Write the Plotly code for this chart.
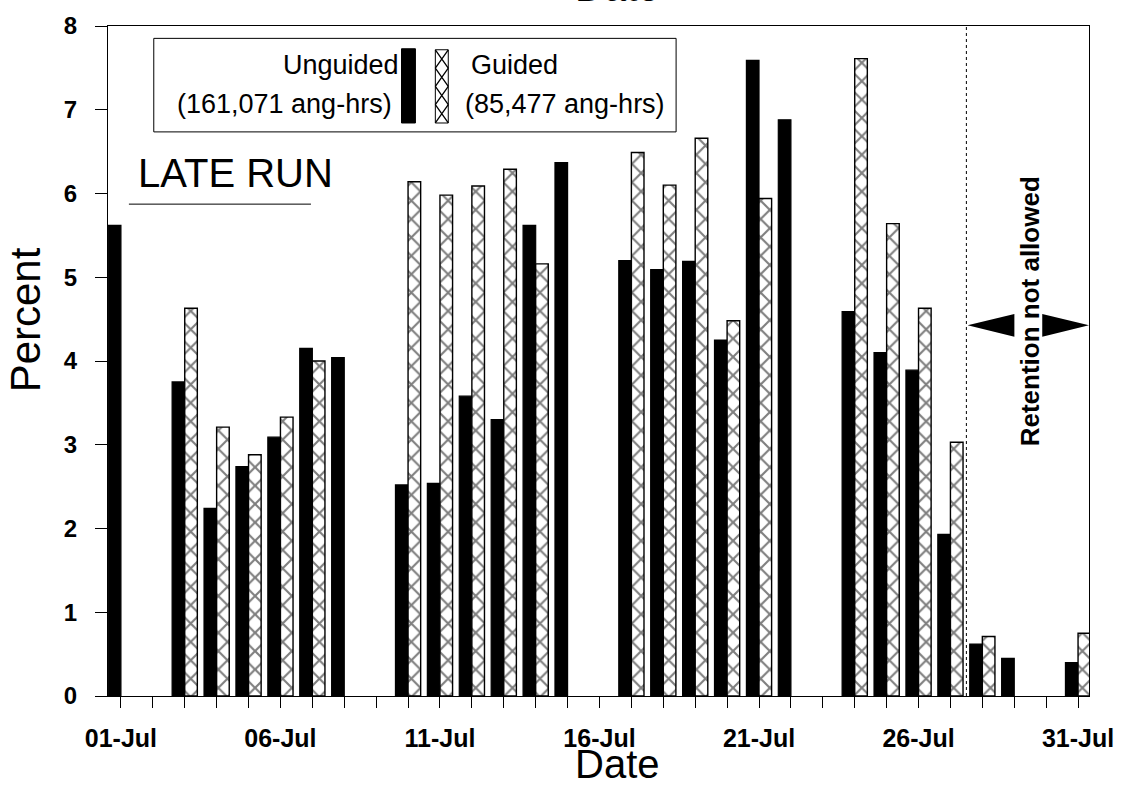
import plotly.graph_objects as go

# ---- data ----
dates = ["1997-07-%02d" % d for d in range(1, 32)]
unguided = [5.62, None, 3.75, 2.24, 2.74, 3.09, 4.15, 4.04, None, 2.52, 2.54, 3.58, 3.30, 5.62, 6.37,
            None, 5.20, 5.09, 5.19, 4.25, 7.59, 6.88, None, 4.59, 4.10, 3.89, 1.93, 0.62, 0.45, None, 0.40]
guided = [None, None, 4.63, 3.21, 2.88, 3.33, 4.00, None, None, 6.14, 5.98, 6.09, 6.29, 5.16, None,
          None, 6.49, 6.10, 6.66, 4.48, 5.94, None, None, 7.61, 5.64, 4.63, 3.03, 0.71, None, None, 0.75]
y_ticks = [0, 1, 2, 3, 4, 5, 6, 7, 8]

FONT = "Liberation Sans, Arial, sans-serif"
W, H = 1126, 789
L, R, T, B = 108, 32, 19, 93
PW, PH = W - L - R, H - T - B


def px(x):
    return (x - L) / PW


def py(y):
    return (H - B - y) / PH


fig = go.Figure()
fig.add_trace(go.Bar(x=dates, y=unguided, name="Unguided",
                     marker=dict(color="black", line=dict(color="black", width=1.2))))
fig.add_trace(go.Bar(x=dates, y=guided, name="Guided",
                     marker=dict(color="white", line=dict(color="black", width=1.4),
                                 pattern=dict(shape="x", fgcolor="black", bgcolor="white",
                                              size=13, solidity=0.3))))

shapes = []
# dotted separator
shapes.append(dict(type="line", xref="x", yref="paper", x0="1997-07-27 12:00", x1="1997-07-27 12:00",
                   y0=0, y1=1, line=dict(color="black", width=1, dash="dot")))
# arrows
ay = 321.5
hh = 11.5
shapes.append(dict(type="path", xref="paper", yref="paper",
                   path="M %f,%f L %f,%f L %f,%f Z" % (px(972), py(ay), px(1019), py(ay - hh), px(1019), py(ay + hh)),
                   fillcolor="black", line=dict(width=0)))
shapes.append(dict(type="path", xref="paper", yref="paper",
                   path="M %f,%f L %f,%f L %f,%f Z" % (px(1094), py(ay), px(1047), py(ay - hh), px(1047), py(ay + hh)),
                   fillcolor="black", line=dict(width=0)))
# legend box
shapes.append(dict(type="rect", xref="paper", yref="paper", x0=px(154), x1=px(679), y0=py(126), y1=py(31.5),
                   line=dict(color="black", width=1), fillcolor="white", layer="above"))
# legend swatches
shapes.append(dict(type="rect", xref="paper", yref="paper", x0=px(403), x1=px(417), y0=py(117), y1=py(42),
                   line=dict(color="black", width=1), fillcolor="black", layer="above"))
shapes.append(dict(type="rect", xref="paper", yref="paper", x0=px(437), x1=px(450), y0=py(117), y1=py(43),
                   line=dict(color="black", width=1), fillcolor="white", layer="above"))
cell = (117 - 43) / 4
segs = []
for i in range(4):
    y0 = 43 + i * cell
    y1 = y0 + cell
    segs.append("M %f,%f L %f,%f" % (px(437), py(y0), px(450), py(y1)))
    segs.append("M %f,%f L %f,%f" % (px(450), py(y0), px(437), py(y1)))
shapes.append(dict(type="path", xref="paper", yref="paper", path=" ".join(segs),
                   line=dict(color="black", width=1.3), layer="above"))
# LATE RUN underline
shapes.append(dict(type="line", xref="paper", yref="paper", x0=px(129), x1=px(312), y0=py(199), y1=py(199),
                   line=dict(color="black", width=1)))

ann = []


def text(s, x, y, size, xanchor="center", yanchor="middle", angle=0, bold=False):
    ann.append(dict(text=("<b>%s</b>" % s) if bold else s, xref="paper", yref="paper", x=px(x), y=py(y),
                    xanchor=xanchor, yanchor=yanchor, showarrow=False, textangle=angle,
                    font=dict(family=FONT, size=size, color="black")))


text("Unguided", 402, 58, 27, xanchor="right")
text("(161,071 ang-hrs)", 395, 98, 27, xanchor="right")
text("Guided", 471, 58, 27, xanchor="left")
text("(85,477 ang-hrs)", 465, 98, 27, xanchor="left")
text("LATE RUN", 136, 168, 40, xanchor="left")
text("Retention not allowed", 1035, 307, 26, angle=-90, bold=True)
text("Percent", 26, 316, 42, angle=-90)
text("Date", 620, 789, 40, yanchor="bottom")
text("Date", 620, 4, 40, yanchor="bottom")

fig.update_layout(
    width=W, height=H, margin=dict(l=L, r=R, t=T, b=B, pad=0),
    paper_bgcolor="white", plot_bgcolor="white",
    barmode="group", bargap=0.21, bargroupgap=0,
    showlegend=False,
    shapes=shapes, annotations=ann,
    font=dict(family=FONT, color="black"),
)
fig.update_xaxes(type="date", range=["1997-06-30 14:17", "1997-07-31 08:14"],
                 tick0="1997-07-01", dtick=5 * 86400000, tickformat="%d-%b",
                 ticks="outside", ticklen=11, tickcolor="black", tickwidth=1,
                 minor=dict(dtick=86400000, ticks="outside", ticklen=11, tickcolor="black", tickwidth=1,
                            showgrid=False),
                 showline=True, linecolor="black", linewidth=1, mirror=True, showgrid=False,
                 zeroline=False, tickfont=dict(family=FONT, size=25, color="black", weight="bold"),
                 ticklabelstandoff=9)
fig.update_yaxes(range=[0, 8], tickvals=y_ticks, ticks="outside", ticklen=12, tickcolor="black", tickwidth=1,
                 showline=True, linecolor="black", linewidth=1, mirror=True, showgrid=False, zeroline=False,
                 tickfont=dict(family=FONT, size=24, color="black", weight="bold"), ticklabelstandoff=13)

fig.write_html("out.html", config={"displayModeBar": False},
               post_script="document.body.style.margin='0px';")
